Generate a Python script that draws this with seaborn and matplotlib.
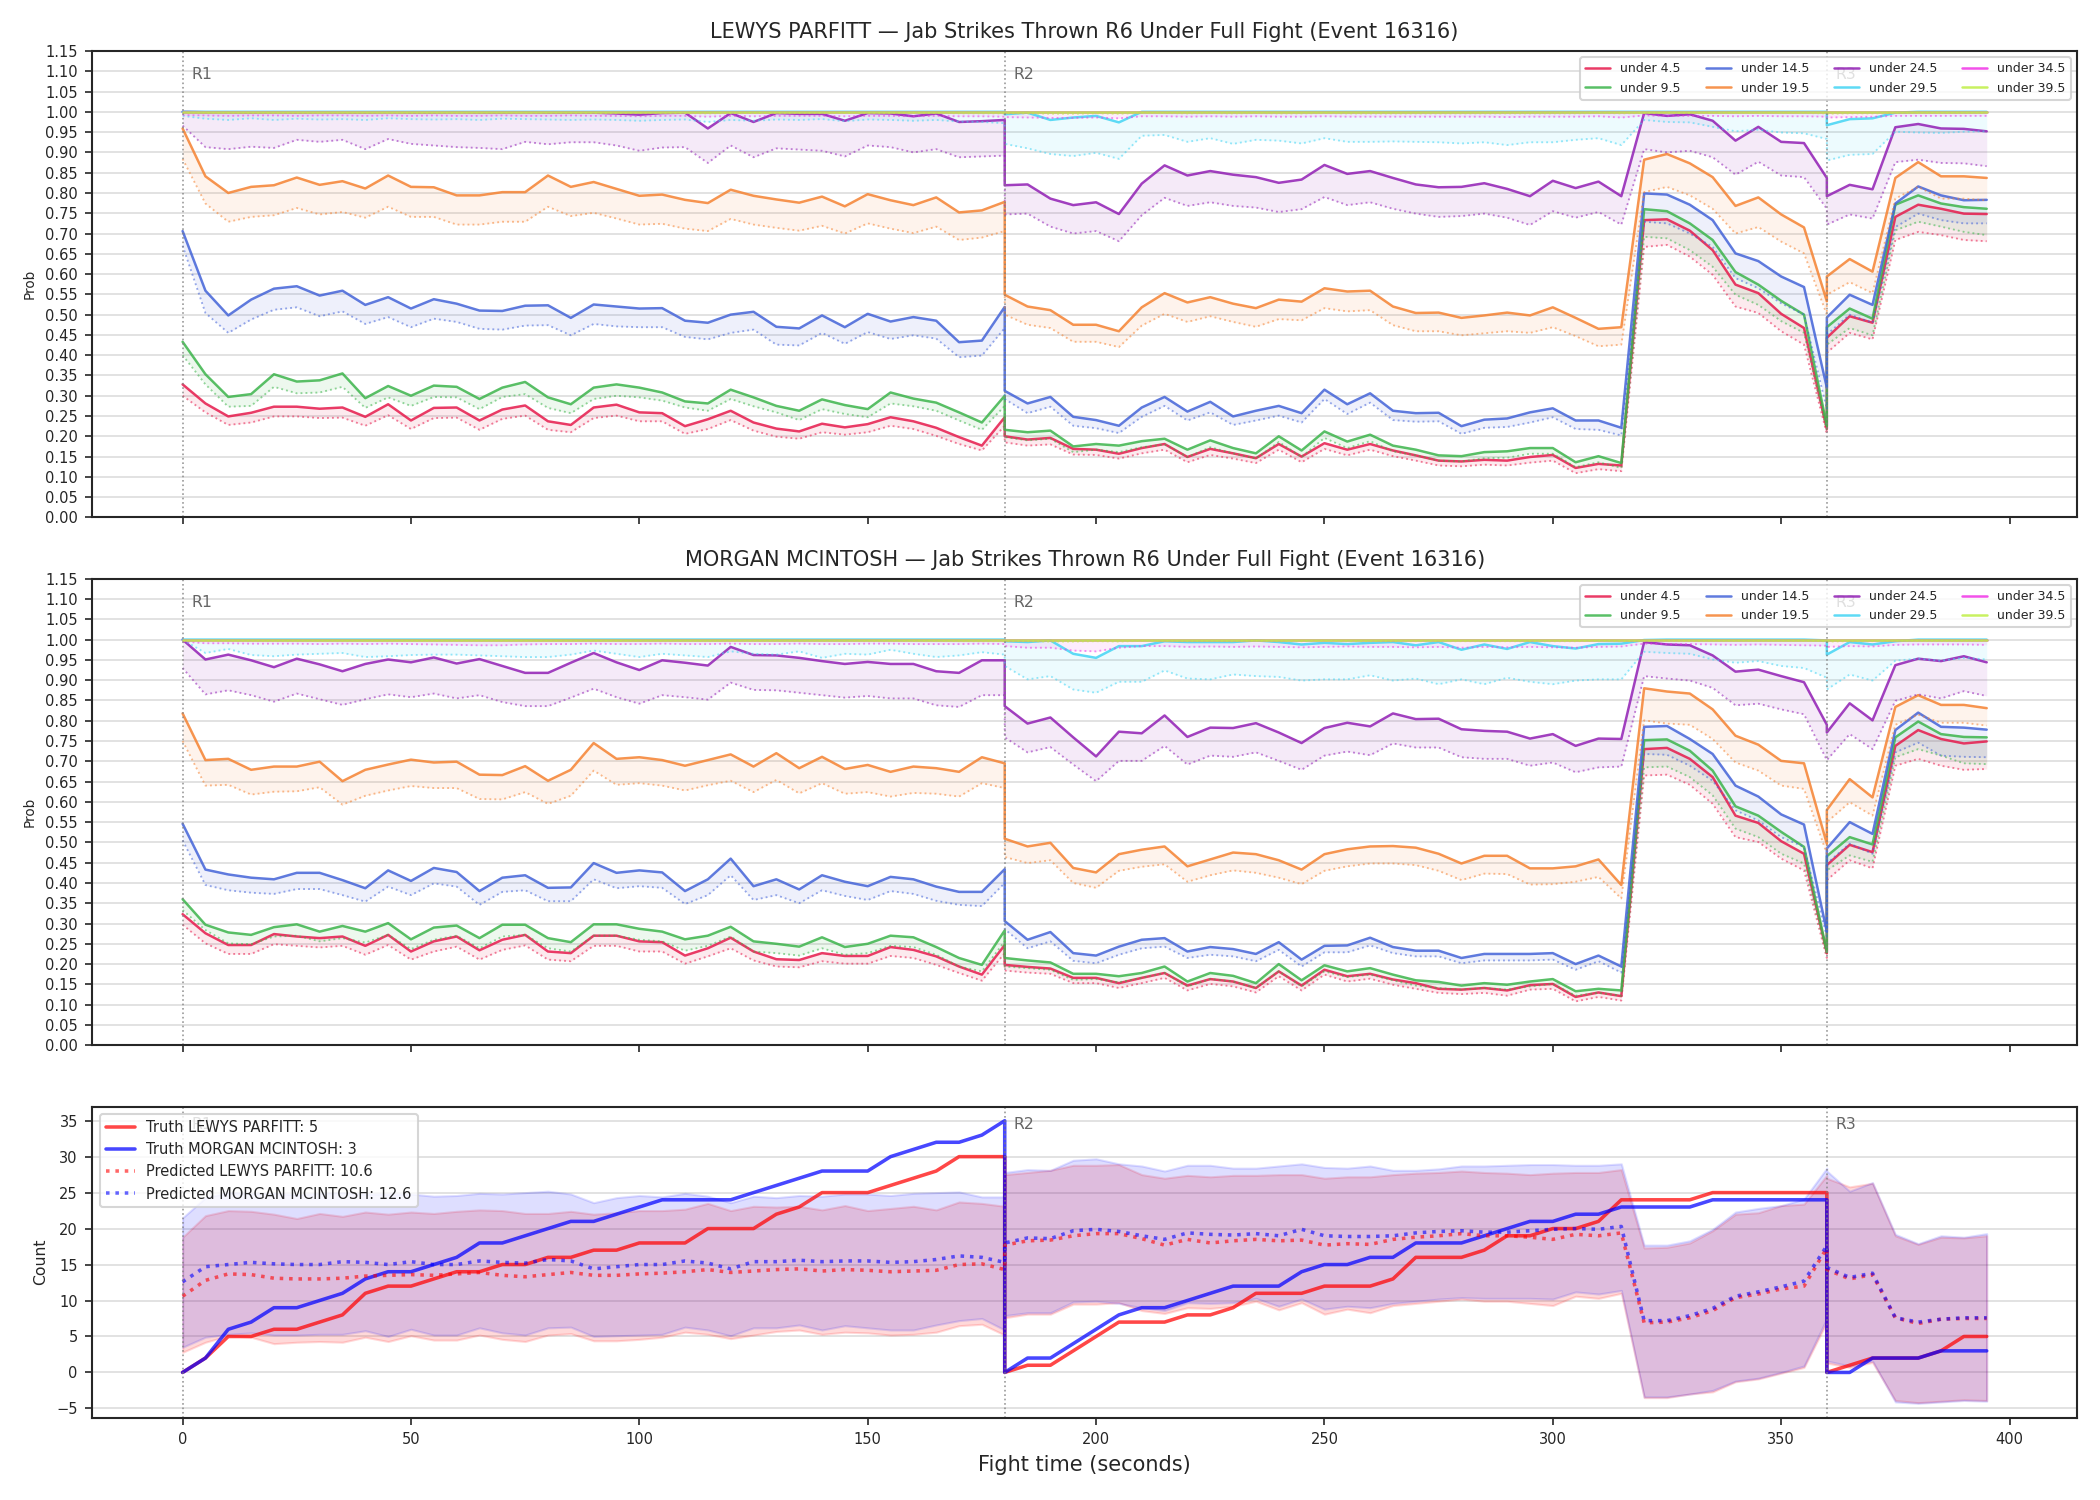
import numpy as np
import matplotlib
matplotlib.use("Agg")
import matplotlib.pyplot as plt
import matplotlib.transforms as mtransforms
import seaborn as sns

# fight time of each sample; every round starts and ends on its own sample
t = list(range(0, 181, 5)) + list(range(180, 361, 5)) + list(range(360, 396, 5))
round_starts = [0, 180, 360]

thresholds = ["under 4.5", "under 9.5", "under 14.5", "under 19.5",
              "under 24.5", "under 29.5", "under 34.5", "under 39.5"]
colors = ["#e6194b", "#3cb44b", "#4363d8", "#f58231",
          "#911eb4", "#42d4f4", "#f032e6", "#bfef45"]

# ---------------- LEWYS PARFITT: probability (solid) and lower line (dotted)
lp_mid_4 = [
    0.328, 0.281, 0.249, 0.258, 0.273, 0.273, 0.268, 0.271, 0.248, 0.279, 0.239, 0.270, 0.271,
    0.239, 0.266, 0.276, 0.237, 0.228, 0.271, 0.278, 0.259, 0.257, 0.225, 0.242, 0.263, 0.234,
    0.219, 0.212, 0.231, 0.222, 0.230, 0.247, 0.237, 0.221, 0.198, 0.177, 0.247,
    0.200, 0.192, 0.196, 0.169, 0.167, 0.157, 0.171, 0.181, 0.149, 0.169, 0.158, 0.146, 0.181,
    0.150, 0.183, 0.167, 0.181, 0.165, 0.153, 0.140, 0.138, 0.142, 0.140, 0.149, 0.154, 0.122,
    0.132, 0.128, 0.733, 0.735, 0.707, 0.659, 0.574, 0.553, 0.502, 0.467, 0.218,
    0.443, 0.496, 0.480, 0.741, 0.771, 0.761, 0.749, 0.748]
lp_low_4 = [
    0.300, 0.259, 0.228, 0.234, 0.249, 0.249, 0.245, 0.246, 0.226, 0.252, 0.218, 0.245, 0.246,
    0.216, 0.243, 0.251, 0.216, 0.210, 0.245, 0.251, 0.237, 0.237, 0.206, 0.218, 0.240, 0.214,
    0.199, 0.194, 0.210, 0.204, 0.210, 0.226, 0.218, 0.201, 0.181, 0.165, 0.226,
    0.185, 0.177, 0.180, 0.155, 0.154, 0.145, 0.158, 0.167, 0.136, 0.154, 0.145, 0.134, 0.167,
    0.136, 0.169, 0.153, 0.167, 0.151, 0.140, 0.128, 0.126, 0.130, 0.128, 0.135, 0.140, 0.109,
    0.119, 0.114, 0.667, 0.672, 0.643, 0.598, 0.520, 0.504, 0.459, 0.426, 0.206,
    0.406, 0.455, 0.439, 0.684, 0.704, 0.696, 0.684, 0.681]
lp_mid_9 = [
    0.433, 0.353, 0.297, 0.304, 0.353, 0.335, 0.338, 0.355, 0.294, 0.324, 0.300, 0.325, 0.322,
    0.292, 0.320, 0.334, 0.296, 0.279, 0.320, 0.328, 0.320, 0.308, 0.286, 0.281, 0.315, 0.296,
    0.275, 0.263, 0.291, 0.277, 0.267, 0.308, 0.293, 0.283, 0.259, 0.234, 0.300,
    0.216, 0.210, 0.214, 0.175, 0.181, 0.177, 0.188, 0.194, 0.167, 0.190, 0.171, 0.158, 0.200,
    0.165, 0.212, 0.187, 0.204, 0.177, 0.167, 0.153, 0.151, 0.161, 0.163, 0.171, 0.171, 0.136,
    0.151, 0.134, 0.760, 0.755, 0.725, 0.684, 0.605, 0.574, 0.534, 0.500, 0.226,
    0.469, 0.515, 0.490, 0.771, 0.794, 0.774, 0.765, 0.761]
lp_low_9 = [
    0.400, 0.328, 0.273, 0.275, 0.322, 0.306, 0.308, 0.322, 0.270, 0.296, 0.275, 0.297, 0.296,
    0.267, 0.297, 0.304, 0.270, 0.257, 0.292, 0.300, 0.296, 0.288, 0.271, 0.263, 0.292, 0.274,
    0.259, 0.240, 0.267, 0.255, 0.247, 0.281, 0.274, 0.263, 0.239, 0.216, 0.275,
    0.198, 0.190, 0.194, 0.161, 0.167, 0.161, 0.173, 0.180, 0.149, 0.173, 0.158, 0.145, 0.186,
    0.149, 0.196, 0.171, 0.188, 0.163, 0.153, 0.140, 0.138, 0.146, 0.147, 0.157, 0.157, 0.124,
    0.136, 0.122, 0.692, 0.688, 0.659, 0.618, 0.549, 0.524, 0.484, 0.455, 0.214,
    0.426, 0.467, 0.449, 0.708, 0.729, 0.717, 0.704, 0.696]
lp_mid_14 = [
    0.706, 0.559, 0.498, 0.537, 0.564, 0.570, 0.547, 0.559, 0.524, 0.543, 0.515, 0.538, 0.527,
    0.510, 0.509, 0.522, 0.523, 0.492, 0.525, 0.520, 0.515, 0.516, 0.485, 0.480, 0.500, 0.507,
    0.470, 0.466, 0.498, 0.469, 0.502, 0.483, 0.494, 0.485, 0.432, 0.436, 0.519,
    0.312, 0.281, 0.297, 0.248, 0.240, 0.226, 0.271, 0.297, 0.261, 0.285, 0.249, 0.263, 0.275,
    0.257, 0.315, 0.279, 0.306, 0.263, 0.257, 0.258, 0.225, 0.241, 0.244, 0.259, 0.269, 0.239,
    0.239, 0.221, 0.799, 0.796, 0.771, 0.733, 0.651, 0.632, 0.594, 0.568, 0.320,
    0.493, 0.549, 0.524, 0.774, 0.816, 0.794, 0.782, 0.783]
lp_low_14 = [
    0.670, 0.504, 0.455, 0.488, 0.512, 0.518, 0.496, 0.508, 0.477, 0.494, 0.469, 0.490, 0.482,
    0.465, 0.463, 0.473, 0.474, 0.449, 0.477, 0.471, 0.469, 0.469, 0.445, 0.439, 0.455, 0.463,
    0.426, 0.424, 0.455, 0.428, 0.457, 0.440, 0.449, 0.441, 0.395, 0.399, 0.467,
    0.292, 0.257, 0.273, 0.226, 0.220, 0.208, 0.248, 0.275, 0.239, 0.259, 0.228, 0.239, 0.251,
    0.234, 0.292, 0.255, 0.283, 0.240, 0.236, 0.237, 0.206, 0.221, 0.223, 0.234, 0.247, 0.218,
    0.216, 0.202, 0.729, 0.725, 0.700, 0.667, 0.590, 0.565, 0.528, 0.500, 0.267,
    0.451, 0.500, 0.480, 0.716, 0.749, 0.733, 0.725, 0.725]
lp_mid_19 = [
    0.959, 0.841, 0.800, 0.815, 0.819, 0.838, 0.820, 0.829, 0.811, 0.843, 0.815, 0.814, 0.794,
    0.794, 0.802, 0.802, 0.843, 0.815, 0.827, 0.810, 0.793, 0.796, 0.783, 0.775, 0.808, 0.793,
    0.784, 0.776, 0.791, 0.767, 0.797, 0.782, 0.770, 0.789, 0.752, 0.757, 0.778,
    0.549, 0.520, 0.511, 0.475, 0.475, 0.459, 0.518, 0.553, 0.530, 0.543, 0.527, 0.516, 0.537,
    0.532, 0.565, 0.557, 0.559, 0.520, 0.504, 0.505, 0.492, 0.498, 0.505, 0.498, 0.518, 0.492,
    0.465, 0.469, 0.882, 0.896, 0.873, 0.839, 0.768, 0.789, 0.747, 0.715, 0.533,
    0.594, 0.637, 0.606, 0.837, 0.876, 0.841, 0.841, 0.837]
lp_low_19 = [
    0.884, 0.774, 0.729, 0.741, 0.745, 0.763, 0.747, 0.753, 0.739, 0.766, 0.741, 0.741, 0.722,
    0.722, 0.729, 0.729, 0.766, 0.743, 0.751, 0.737, 0.722, 0.724, 0.712, 0.706, 0.736, 0.722,
    0.714, 0.707, 0.719, 0.700, 0.725, 0.712, 0.701, 0.717, 0.684, 0.690, 0.706,
    0.500, 0.475, 0.467, 0.433, 0.433, 0.420, 0.473, 0.502, 0.482, 0.496, 0.482, 0.470, 0.489,
    0.486, 0.516, 0.508, 0.511, 0.474, 0.459, 0.459, 0.449, 0.454, 0.459, 0.455, 0.469, 0.447,
    0.422, 0.426, 0.802, 0.815, 0.794, 0.761, 0.700, 0.716, 0.680, 0.651, 0.500,
    0.549, 0.580, 0.553, 0.786, 0.815, 0.786, 0.786, 0.782]
lp_mid_24 = [
    1.000, 0.999, 0.999, 0.998, 0.999, 0.998, 0.999, 0.998, 0.998, 0.999, 0.998, 0.998, 0.999,
    0.998, 0.998, 0.999, 0.998, 0.998, 0.998, 0.996, 0.993, 0.997, 0.998, 0.959, 0.997, 0.975,
    0.997, 0.995, 0.995, 0.978, 0.997, 0.996, 0.989, 0.996, 0.975, 0.977, 0.980,
    0.819, 0.821, 0.786, 0.770, 0.777, 0.748, 0.823, 0.868, 0.843, 0.854, 0.845, 0.839, 0.825,
    0.833, 0.869, 0.847, 0.854, 0.837, 0.821, 0.814, 0.815, 0.824, 0.810, 0.792, 0.830, 0.812,
    0.828, 0.792, 0.997, 0.990, 0.994, 0.978, 0.929, 0.963, 0.926, 0.923, 0.837,
    0.792, 0.820, 0.809, 0.962, 0.970, 0.959, 0.958, 0.952]
lp_low_24 = [
    0.966, 0.913, 0.908, 0.914, 0.911, 0.931, 0.926, 0.931, 0.908, 0.933, 0.921, 0.917, 0.913,
    0.911, 0.908, 0.926, 0.920, 0.925, 0.925, 0.917, 0.904, 0.912, 0.913, 0.874, 0.917, 0.888,
    0.910, 0.907, 0.904, 0.890, 0.917, 0.913, 0.900, 0.908, 0.888, 0.890, 0.892,
    0.747, 0.749, 0.717, 0.700, 0.706, 0.681, 0.745, 0.788, 0.768, 0.777, 0.768, 0.764, 0.753,
    0.760, 0.790, 0.770, 0.777, 0.761, 0.749, 0.741, 0.743, 0.749, 0.739, 0.721, 0.755, 0.739,
    0.753, 0.722, 0.908, 0.900, 0.904, 0.888, 0.845, 0.877, 0.843, 0.839, 0.761,
    0.722, 0.747, 0.737, 0.876, 0.882, 0.874, 0.873, 0.866]
lp_mid_29 = [
    1.000, 1.000, 1.000, 1.000, 1.000, 1.000, 1.000, 1.000, 1.000, 1.000, 1.000, 1.000, 1.000,
    1.000, 1.000, 1.000, 1.000, 1.000, 1.000, 1.000, 1.000, 1.000, 1.000, 1.000, 1.000, 1.000,
    1.000, 1.000, 1.000, 1.000, 1.000, 1.000, 1.000, 1.000, 1.000, 1.000, 1.000,
    0.994, 0.998, 0.980, 0.986, 0.990, 0.974, 1.000, 1.000, 1.000, 1.000, 1.000, 1.000, 1.000,
    1.000, 1.000, 1.000, 1.000, 1.000, 1.000, 1.000, 1.000, 1.000, 1.000, 1.000, 1.000, 1.000,
    1.000, 1.000, 1.000, 1.000, 1.000, 1.000, 1.000, 1.000, 1.000, 1.000, 1.000,
    0.967, 0.982, 0.984, 0.998, 1.000, 1.000, 1.000, 1.000]
lp_low_29 = [
    0.990, 0.983, 0.980, 0.984, 0.980, 0.983, 0.981, 0.982, 0.980, 0.984, 0.982, 0.981, 0.982,
    0.980, 0.983, 0.982, 0.981, 0.980, 0.981, 0.980, 0.978, 0.980, 0.981, 0.975, 0.980, 0.978,
    0.981, 0.980, 0.982, 0.977, 0.981, 0.980, 0.978, 0.980, 0.976, 0.975, 0.972,
    0.921, 0.910, 0.896, 0.891, 0.899, 0.884, 0.941, 0.943, 0.926, 0.935, 0.921, 0.931, 0.929,
    0.922, 0.935, 0.926, 0.926, 0.927, 0.926, 0.925, 0.922, 0.925, 0.918, 0.925, 0.925, 0.931,
    0.935, 0.918, 0.980, 0.975, 0.974, 0.963, 0.952, 0.956, 0.949, 0.947, 0.933,
    0.880, 0.894, 0.896, 0.951, 0.949, 0.948, 0.951, 0.952]
lp_mid_34 = [
    1.000, 1.000, 1.000, 1.000, 1.000, 1.000, 1.000, 1.000, 1.000, 1.000, 1.000, 1.000, 1.000,
    1.000, 1.000, 1.000, 1.000, 1.000, 1.000, 1.000, 1.000, 1.000, 1.000, 1.000, 1.000, 1.000,
    1.000, 1.000, 1.000, 1.000, 1.000, 1.000, 1.000, 1.000, 1.000, 1.000, 1.000,
    1.000, 1.000, 1.000, 1.000, 1.000, 1.000, 1.000, 1.000, 1.000, 1.000, 1.000, 1.000, 1.000,
    1.000, 1.000, 1.000, 1.000, 1.000, 1.000, 1.000, 1.000, 1.000, 1.000, 1.000, 1.000, 1.000,
    1.000, 1.000, 1.000, 1.000, 1.000, 1.000, 1.000, 1.000, 1.000, 1.000, 1.000,
    1.000, 1.000, 1.000, 1.000, 1.000, 1.000, 1.000, 1.000]
lp_low_34 = [
    0.992, 0.991, 0.990, 0.991, 0.991, 0.990, 0.991, 0.991, 0.990, 0.991, 0.990, 0.991, 0.990,
    0.990, 0.991, 0.990, 0.990, 0.991, 0.990, 0.990, 0.989, 0.990, 0.990, 0.988, 0.990, 0.989,
    0.990, 0.990, 0.990, 0.989, 0.990, 0.990, 0.989, 0.990, 0.989, 0.989, 0.988,
    0.987, 0.986, 0.985, 0.985, 0.986, 0.984, 0.989, 0.989, 0.988, 0.989, 0.988, 0.989, 0.988,
    0.988, 0.989, 0.988, 0.988, 0.988, 0.988, 0.988, 0.988, 0.988, 0.987, 0.988, 0.988, 0.988,
    0.989, 0.986, 0.991, 0.990, 0.990, 0.990, 0.989, 0.990, 0.989, 0.989, 0.988,
    0.986, 0.987, 0.988, 0.990, 0.990, 0.990, 0.990, 0.990]
lp_mid_39 = lp_mid_34
lp_low_39 = [
    0.997, 0.997, 0.997, 0.997, 0.997, 0.997, 0.997, 0.997, 0.997, 0.997, 0.997, 0.997, 0.997,
    0.997, 0.997, 0.997, 0.997, 0.997, 0.997, 0.997, 0.997, 0.997, 0.997, 0.996, 0.997, 0.997,
    0.997, 0.997, 0.997, 0.997, 0.997, 0.997, 0.997, 0.997, 0.996, 0.996, 0.996,
    0.996, 0.996, 0.995, 0.995, 0.996, 0.995, 0.997, 0.997, 0.996, 0.997, 0.996, 0.997, 0.996,
    0.996, 0.997, 0.996, 0.996, 0.996, 0.996, 0.996, 0.996, 0.996, 0.996, 0.996, 0.996, 0.996,
    0.997, 0.996, 0.997, 0.997, 0.997, 0.997, 0.997, 0.997, 0.997, 0.997, 0.996,
    0.995, 0.996, 0.996, 0.997, 0.997, 0.997, 0.997, 0.997]

# ---------------- MORGAN MCINTOSH
mm_mid_4 = [
    0.323, 0.276, 0.247, 0.247, 0.274, 0.268, 0.264, 0.268, 0.245, 0.272, 0.231, 0.256, 0.268,
    0.234, 0.260, 0.272, 0.231, 0.227, 0.270, 0.270, 0.256, 0.254, 0.221, 0.239, 0.265, 0.231,
    0.212, 0.210, 0.227, 0.220, 0.220, 0.242, 0.235, 0.219, 0.194, 0.174, 0.247,
    0.198, 0.193, 0.189, 0.166, 0.166, 0.153, 0.166, 0.178, 0.147, 0.163, 0.157, 0.141, 0.182,
    0.147, 0.186, 0.170, 0.176, 0.162, 0.153, 0.139, 0.137, 0.141, 0.135, 0.148, 0.151, 0.119,
    0.130, 0.121, 0.730, 0.733, 0.706, 0.661, 0.566, 0.548, 0.503, 0.472, 0.227,
    0.444, 0.494, 0.476, 0.738, 0.777, 0.755, 0.744, 0.749]
mm_low_4 = [
    0.297, 0.251, 0.225, 0.225, 0.249, 0.245, 0.241, 0.245, 0.223, 0.247, 0.211, 0.231, 0.243,
    0.211, 0.235, 0.246, 0.211, 0.207, 0.245, 0.245, 0.231, 0.231, 0.201, 0.219, 0.239, 0.209,
    0.194, 0.192, 0.207, 0.201, 0.201, 0.220, 0.215, 0.198, 0.178, 0.159, 0.227,
    0.184, 0.179, 0.176, 0.153, 0.153, 0.141, 0.153, 0.166, 0.135, 0.151, 0.145, 0.130, 0.170,
    0.135, 0.174, 0.157, 0.164, 0.149, 0.139, 0.129, 0.126, 0.129, 0.122, 0.137, 0.139, 0.108,
    0.119, 0.110, 0.665, 0.667, 0.642, 0.595, 0.513, 0.501, 0.460, 0.431, 0.215,
    0.407, 0.456, 0.436, 0.689, 0.706, 0.689, 0.679, 0.681]
mm_mid_9 = [
    0.360, 0.297, 0.278, 0.272, 0.291, 0.298, 0.280, 0.294, 0.280, 0.301, 0.261, 0.290, 0.295,
    0.264, 0.297, 0.297, 0.264, 0.254, 0.298, 0.298, 0.287, 0.280, 0.261, 0.270, 0.292, 0.256,
    0.250, 0.243, 0.266, 0.242, 0.250, 0.270, 0.266, 0.242, 0.215, 0.198, 0.283,
    0.215, 0.209, 0.204, 0.176, 0.176, 0.170, 0.178, 0.194, 0.157, 0.178, 0.171, 0.153, 0.200,
    0.160, 0.197, 0.182, 0.190, 0.174, 0.160, 0.156, 0.147, 0.153, 0.149, 0.157, 0.163, 0.133,
    0.139, 0.135, 0.752, 0.754, 0.726, 0.677, 0.589, 0.566, 0.526, 0.489, 0.231,
    0.466, 0.513, 0.495, 0.759, 0.798, 0.767, 0.760, 0.759]
mm_low_9 = [
    0.333, 0.284, 0.251, 0.249, 0.268, 0.270, 0.256, 0.264, 0.253, 0.272, 0.237, 0.260, 0.270,
    0.239, 0.268, 0.272, 0.239, 0.231, 0.270, 0.270, 0.260, 0.256, 0.233, 0.245, 0.268, 0.231,
    0.227, 0.221, 0.239, 0.223, 0.227, 0.245, 0.242, 0.223, 0.194, 0.182, 0.256,
    0.194, 0.190, 0.186, 0.161, 0.163, 0.155, 0.166, 0.178, 0.145, 0.163, 0.157, 0.141, 0.182,
    0.145, 0.182, 0.168, 0.174, 0.160, 0.147, 0.141, 0.137, 0.141, 0.137, 0.145, 0.151, 0.122,
    0.129, 0.122, 0.685, 0.687, 0.661, 0.616, 0.534, 0.513, 0.472, 0.448, 0.223,
    0.431, 0.468, 0.452, 0.710, 0.730, 0.714, 0.695, 0.693]
mm_mid_14 = [
    0.546, 0.433, 0.421, 0.413, 0.409, 0.425, 0.425, 0.407, 0.387, 0.431, 0.405, 0.437, 0.427,
    0.380, 0.413, 0.419, 0.388, 0.389, 0.449, 0.425, 0.431, 0.426, 0.380, 0.409, 0.460, 0.392,
    0.409, 0.384, 0.419, 0.403, 0.392, 0.415, 0.409, 0.391, 0.378, 0.378, 0.434,
    0.306, 0.260, 0.279, 0.227, 0.221, 0.243, 0.260, 0.264, 0.231, 0.242, 0.237, 0.225, 0.254,
    0.211, 0.245, 0.246, 0.265, 0.242, 0.233, 0.233, 0.215, 0.225, 0.225, 0.225, 0.227, 0.200,
    0.221, 0.194, 0.785, 0.787, 0.755, 0.718, 0.640, 0.613, 0.569, 0.544, 0.280,
    0.485, 0.550, 0.521, 0.777, 0.820, 0.785, 0.783, 0.778]
mm_low_14 = [
    0.505, 0.395, 0.382, 0.376, 0.373, 0.385, 0.385, 0.370, 0.354, 0.391, 0.370, 0.399, 0.391,
    0.346, 0.378, 0.382, 0.355, 0.355, 0.409, 0.387, 0.392, 0.388, 0.348, 0.370, 0.419, 0.358,
    0.370, 0.350, 0.382, 0.368, 0.358, 0.380, 0.373, 0.356, 0.346, 0.343, 0.400,
    0.286, 0.239, 0.256, 0.208, 0.202, 0.223, 0.239, 0.243, 0.215, 0.223, 0.219, 0.207, 0.235,
    0.194, 0.229, 0.229, 0.246, 0.227, 0.219, 0.219, 0.202, 0.209, 0.209, 0.209, 0.211, 0.186,
    0.207, 0.179, 0.718, 0.716, 0.689, 0.652, 0.579, 0.554, 0.513, 0.489, 0.268,
    0.448, 0.497, 0.472, 0.722, 0.746, 0.714, 0.711, 0.710]
mm_mid_19 = [
    0.818, 0.703, 0.706, 0.679, 0.687, 0.687, 0.699, 0.651, 0.679, 0.692, 0.704, 0.697, 0.699,
    0.667, 0.666, 0.688, 0.652, 0.679, 0.745, 0.706, 0.710, 0.703, 0.689, 0.703, 0.717, 0.687,
    0.720, 0.683, 0.711, 0.681, 0.691, 0.674, 0.687, 0.683, 0.674, 0.710, 0.695,
    0.509, 0.490, 0.499, 0.437, 0.426, 0.471, 0.482, 0.490, 0.441, 0.458, 0.475, 0.471, 0.456,
    0.433, 0.471, 0.483, 0.490, 0.491, 0.487, 0.472, 0.448, 0.467, 0.467, 0.436, 0.436, 0.441,
    0.458, 0.395, 0.880, 0.872, 0.867, 0.828, 0.763, 0.741, 0.701, 0.695, 0.497,
    0.580, 0.656, 0.611, 0.834, 0.863, 0.839, 0.839, 0.831]
mm_low_19 = [
    0.750, 0.640, 0.642, 0.618, 0.625, 0.626, 0.636, 0.593, 0.615, 0.628, 0.639, 0.634, 0.634,
    0.607, 0.606, 0.624, 0.595, 0.615, 0.677, 0.642, 0.646, 0.640, 0.628, 0.641, 0.652, 0.624,
    0.654, 0.621, 0.646, 0.620, 0.624, 0.613, 0.622, 0.620, 0.613, 0.646, 0.634,
    0.464, 0.449, 0.456, 0.400, 0.388, 0.430, 0.440, 0.446, 0.403, 0.419, 0.431, 0.425, 0.413,
    0.397, 0.430, 0.441, 0.448, 0.448, 0.444, 0.430, 0.407, 0.423, 0.422, 0.396, 0.397, 0.403,
    0.415, 0.362, 0.801, 0.793, 0.790, 0.755, 0.697, 0.677, 0.640, 0.632, 0.472,
    0.550, 0.599, 0.566, 0.790, 0.815, 0.795, 0.795, 0.788]
mm_mid_24 = [
    1.000, 0.951, 0.963, 0.949, 0.932, 0.953, 0.939, 0.922, 0.940, 0.951, 0.944, 0.956, 0.941,
    0.952, 0.935, 0.918, 0.918, 0.943, 0.967, 0.944, 0.925, 0.949, 0.943, 0.936, 0.982, 0.962,
    0.961, 0.955, 0.947, 0.940, 0.945, 0.940, 0.940, 0.922, 0.918, 0.949, 0.949,
    0.836, 0.793, 0.808, 0.759, 0.712, 0.773, 0.769, 0.813, 0.760, 0.783, 0.782, 0.794, 0.771,
    0.745, 0.782, 0.795, 0.786, 0.818, 0.804, 0.805, 0.779, 0.775, 0.773, 0.756, 0.767, 0.738,
    0.756, 0.755, 0.994, 0.988, 0.986, 0.961, 0.921, 0.926, 0.910, 0.895, 0.790,
    0.771, 0.843, 0.801, 0.937, 0.953, 0.947, 0.959, 0.944]
mm_low_24 = [
    0.930, 0.865, 0.875, 0.863, 0.847, 0.867, 0.853, 0.839, 0.853, 0.865, 0.858, 0.867, 0.855,
    0.863, 0.846, 0.836, 0.836, 0.857, 0.879, 0.858, 0.842, 0.863, 0.858, 0.852, 0.894, 0.876,
    0.875, 0.869, 0.863, 0.857, 0.861, 0.855, 0.855, 0.838, 0.834, 0.863, 0.863,
    0.759, 0.722, 0.735, 0.692, 0.651, 0.701, 0.701, 0.738, 0.692, 0.714, 0.711, 0.722, 0.701,
    0.679, 0.714, 0.724, 0.715, 0.744, 0.734, 0.734, 0.710, 0.706, 0.706, 0.689, 0.697, 0.673,
    0.685, 0.687, 0.910, 0.904, 0.899, 0.881, 0.838, 0.842, 0.828, 0.816, 0.703,
    0.703, 0.767, 0.730, 0.849, 0.865, 0.855, 0.873, 0.861]
mm_mid_29 = [
    1.000, 1.000, 1.000, 1.000, 1.000, 1.000, 1.000, 1.000, 1.000, 1.000, 1.000, 1.000, 1.000,
    1.000, 1.000, 1.000, 1.000, 1.000, 1.000, 1.000, 1.000, 1.000, 1.000, 1.000, 1.000, 1.000,
    1.000, 1.000, 1.000, 1.000, 1.000, 1.000, 1.000, 1.000, 1.000, 1.000, 1.000,
    0.996, 0.994, 0.998, 0.965, 0.955, 0.984, 0.984, 0.996, 0.994, 0.994, 0.994, 0.998, 0.994,
    0.988, 0.992, 0.989, 0.992, 0.994, 0.986, 0.994, 0.975, 0.988, 0.977, 0.994, 0.984, 0.978,
    0.989, 0.990, 0.999, 1.000, 1.000, 1.000, 1.000, 1.000, 1.000, 1.000, 0.998,
    0.963, 0.994, 0.988, 0.996, 1.000, 1.000, 1.000, 1.000]
mm_low_29 = [
    1.000, 0.967, 0.977, 0.962, 0.959, 0.963, 0.965, 0.967, 0.957, 0.959, 0.962, 0.963, 0.963,
    0.961, 0.959, 0.957, 0.957, 0.963, 0.973, 0.965, 0.957, 0.965, 0.961, 0.957, 0.971, 0.965,
    0.963, 0.971, 0.955, 0.965, 0.963, 0.975, 0.965, 0.957, 0.961, 0.969, 0.963,
    0.935, 0.902, 0.910, 0.877, 0.869, 0.896, 0.896, 0.924, 0.904, 0.902, 0.914, 0.910, 0.908,
    0.899, 0.902, 0.902, 0.912, 0.899, 0.904, 0.890, 0.902, 0.890, 0.906, 0.896, 0.890, 0.899,
    0.902, 0.902, 0.970, 0.967, 0.965, 0.951, 0.943, 0.947, 0.935, 0.930, 0.906,
    0.877, 0.914, 0.899, 0.948, 0.953, 0.948, 0.955, 0.951]
mm_mid_34 = lp_mid_34
mm_low_34 = [
    0.995, 0.991, 0.991, 0.990, 0.990, 0.990, 0.989, 0.990, 0.989, 0.990, 0.989, 0.988, 0.987,
    0.986, 0.986, 0.988, 0.989, 0.989, 0.990, 0.989, 0.989, 0.990, 0.989, 0.989, 0.990, 0.989,
    0.989, 0.990, 0.989, 0.989, 0.990, 0.990, 0.989, 0.989, 0.989, 0.990, 0.989,
    0.984, 0.980, 0.980, 0.973, 0.971, 0.980, 0.984, 0.984, 0.982, 0.983, 0.982, 0.983, 0.982,
    0.981, 0.982, 0.983, 0.982, 0.982, 0.981, 0.982, 0.980, 0.982, 0.981, 0.982, 0.981, 0.980,
    0.982, 0.983, 0.990, 0.989, 0.989, 0.988, 0.987, 0.988, 0.987, 0.986, 0.985,
    0.982, 0.984, 0.983, 0.987, 0.988, 0.988, 0.988, 0.987]
mm_mid_39 = lp_mid_34
mm_low_39 = lp_low_39

# ---------------- counts
lp_truth = [0, 2, 5, 5, 6, 6, 7, 8, 11, 12, 12, 13, 14, 14, 15, 15, 16, 16, 17, 17, 18, 18, 18,
            20, 20, 20, 22, 23, 25, 25, 25, 26, 27, 28, 30, 30, 30,
            0, 1, 1, 3, 5, 7, 7, 7, 8, 8, 9, 11, 11, 11, 12, 12, 12, 13, 16, 16, 16, 17, 19, 19,
            20, 20, 21, 24, 24, 24, 24, 25, 25, 25, 25, 25, 25,
            0, 1, 2, 2, 2, 3, 5, 5]
mm_truth = [0, 2, 6, 7, 9, 9, 10, 11, 13, 14, 14, 15, 16, 18, 18, 19, 20, 21, 21, 22, 23, 24, 24,
            24, 24, 25, 26, 27, 28, 28, 28, 30, 31, 32, 32, 33, 35,
            0, 2, 2, 4, 6, 8, 9, 9, 10, 11, 12, 12, 12, 14, 15, 15, 16, 16, 18, 18, 18, 19, 20, 21,
            21, 22, 22, 23, 23, 23, 23, 24, 24, 24, 24, 24, 24,
            0, 0, 2, 2, 2, 3, 3, 3]
lp_pred = [10.6, 12.8, 13.7, 13.6, 13.1, 13.0, 13.0, 13.1, 13.4, 13.5, 13.6, 13.5, 13.7, 13.9,
           13.5, 13.3, 13.6, 13.9, 13.5, 13.5, 13.7, 13.8, 14.0, 14.3, 13.9, 14.1, 14.3, 14.4,
           14.1, 14.3, 14.2, 14.0, 14.1, 14.2, 15.0, 15.1, 14.3,
           17.7, 18.3, 18.4, 19.0, 19.3, 19.3, 18.6, 17.7, 18.5, 18.0, 18.3, 18.5, 18.3, 18.4,
           17.7, 17.9, 17.8, 18.5, 18.8, 19.0, 19.3, 19.0, 19.0, 18.8, 18.5, 19.2, 19.0, 19.4,
           6.9, 7.0, 7.6, 8.6, 10.4, 10.9, 11.6, 12.0, 17.3,
           14.3, 13.0, 13.6, 7.6, 6.8, 7.4, 7.5, 7.5]
mm_pred = [12.6, 14.7, 15.0, 15.3, 15.1, 15.0, 15.0, 15.4, 15.3, 15.0, 15.4, 15.0, 15.0, 15.5,
           15.3, 15.2, 15.7, 15.5, 14.4, 14.7, 15.0, 15.0, 15.5, 15.2, 14.4, 15.4, 15.4, 15.6,
           15.4, 15.5, 15.5, 15.3, 15.4, 15.7, 16.2, 16.0, 15.3,
           18.0, 18.7, 18.6, 19.7, 19.9, 19.6, 19.0, 18.5, 19.4, 19.2, 19.1, 19.3, 19.0, 19.9,
           19.0, 18.9, 18.9, 19.0, 19.4, 19.6, 19.7, 19.5, 19.5, 19.7, 19.9, 20.0, 19.9, 20.3,
           7.2, 7.2, 7.9, 8.9, 10.6, 11.2, 11.9, 12.7, 17.6,
           14.6, 13.2, 13.8, 7.6, 7.0, 7.4, 7.6, 7.6]
lp_hi = [18.8, 21.8, 22.5, 22.4, 22.0, 21.4, 22.1, 21.7, 22.3, 22.0, 22.3, 22.1, 22.4, 22.6,
         22.5, 22.1, 22.1, 22.4, 22.0, 22.2, 22.5, 22.5, 22.7, 23.5, 22.5, 23.1, 23.0, 23.1,
         22.6, 23.2, 22.5, 22.8, 23.1, 22.6, 23.7, 23.5, 23.1,
         27.5, 27.8, 28.1, 28.8, 28.8, 28.9, 27.5, 27.0, 27.4, 27.2, 27.4, 27.4, 27.5, 27.5,
         27.0, 27.2, 27.2, 27.5, 27.7, 27.8, 28.0, 27.8, 27.7, 27.5, 27.7, 27.8, 27.8, 28.2,
         17.3, 17.4, 18.0, 19.7, 22.0, 22.2, 23.2, 23.4, 27.4,
         27.0, 25.8, 26.3, 19.0, 17.8, 18.8, 18.7, 19.0]
lp_lo = [2.8, 4.2, 5.1, 4.9, 4.0, 4.2, 4.3, 4.2, 4.9, 4.3, 5.1, 4.5, 4.5, 5.2, 4.6, 4.3, 5.2,
         5.4, 4.4, 4.4, 4.6, 4.9, 5.6, 5.3, 4.7, 5.2, 5.7, 5.9, 5.3, 5.6, 5.5, 5.2, 5.3, 5.6,
         6.5, 6.7, 5.2,
         7.6, 8.1, 8.1, 9.5, 9.5, 9.7, 8.6, 8.2, 9.0, 8.9, 9.2, 9.9, 8.7, 9.7, 8.1, 8.8, 8.3,
         9.3, 9.6, 9.9, 10.2, 9.9, 9.9, 9.6, 9.3, 10.6, 10.3, 11.0, -3.5, -3.5, -3.0, -2.7,
         -1.3, -0.9, -0.1, 0.7, 7.0,
         1.3, 0.7, 1.4, -3.9, -4.2, -4.0, -3.8, -3.9]
mm_hi = [21.5, 24.3, 25.0, 24.9, 24.9, 24.7, 24.9, 25.0, 24.8, 24.8, 24.8, 24.5, 24.6, 24.9,
         24.8, 25.0, 25.2, 24.8, 23.6, 24.3, 24.6, 24.4, 24.9, 24.5, 23.6, 24.5, 24.3, 24.6,
         24.5, 24.8, 24.8, 24.6, 24.9, 25.0, 25.1, 24.4, 24.4,
         27.8, 28.2, 28.1, 29.5, 29.7, 29.0, 28.7, 28.0, 28.8, 28.8, 28.4, 28.4, 28.7, 29.0,
         28.5, 28.4, 28.7, 28.1, 28.1, 28.3, 28.7, 28.7, 28.8, 28.9, 28.9, 28.8, 28.8, 29.0,
         17.7, 17.7, 18.3, 19.9, 22.3, 22.8, 23.2, 24.1, 28.4,
         28.0, 25.2, 26.4, 19.2, 17.9, 19.0, 18.8, 19.3]
mm_lo = [3.5, 4.9, 5.3, 5.5, 5.2, 5.2, 5.3, 5.3, 5.8, 5.0, 6.0, 5.2, 5.2, 6.2, 5.5, 5.2, 6.2,
         6.3, 5.0, 5.1, 5.2, 5.3, 6.3, 5.9, 5.1, 6.2, 6.2, 6.6, 5.9, 6.5, 6.2, 5.9, 5.9, 6.6,
         7.2, 7.5, 5.9,
         7.9, 8.3, 8.3, 9.8, 9.9, 9.6, 9.0, 8.6, 9.7, 9.6, 9.7, 10.3, 9.2, 10.2, 8.8, 9.2, 9.0,
         9.6, 9.9, 10.2, 10.4, 10.3, 10.3, 10.3, 10.2, 11.2, 10.9, 11.4, -3.4, -3.4, -3.0, -2.5,
         -1.2, -0.8, 0.0, 0.9, 7.5,
         1.6, 0.9, 1.6, -4.1, -4.3, -4.1, -3.9, -4.0]

lp_mids = [lp_mid_4, lp_mid_9, lp_mid_14, lp_mid_19, lp_mid_24, lp_mid_29, lp_mid_34, lp_mid_39]
lp_lows = [lp_low_4, lp_low_9, lp_low_14, lp_low_19, lp_low_24, lp_low_29, lp_low_34, lp_low_39]
mm_mids = [mm_mid_4, mm_mid_9, mm_mid_14, mm_mid_19, mm_mid_24, mm_mid_29, mm_mid_34, mm_mid_39]
mm_lows = [mm_low_4, mm_low_9, mm_low_14, mm_low_19, mm_low_24, mm_low_29, mm_low_34, mm_low_39]

sns.set_style("ticks")
plt.rcParams["font.family"] = ["DejaVu Sans"]

fig, axes = plt.subplots(3, 1, figsize=(14, 10), dpi=150, sharex=True,
                         gridspec_kw={"height_ratios": [3, 3, 2]})
fig.subplots_adjust(left=0.044, right=0.989, top=0.966, bottom=0.055, hspace=0.148)


def round_marks(ax):
    trans = mtransforms.blended_transform_factory(ax.transData, ax.transAxes)
    for i, r in enumerate(round_starts):
        ax.axvline(r, color="gray", ls=":", lw=0.8, alpha=0.8)
        ax.text(r + 2, 0.965, f"R{i + 1}", transform=trans, va="top", ha="left",
                fontsize=7.5, color="#666666")


def prob_panel(ax, name, mids, lows):
    for lab, col, mid, low in zip(thresholds, colors, mids, lows):
        ax.fill_between(t, low, mid, color=col, alpha=0.09, lw=0)
        sns.lineplot(x=t, y=mid, ax=ax, color=col, lw=1.2, alpha=0.85,
                     estimator=None, sort=False, label=lab)
        sns.lineplot(x=t, y=low, ax=ax, color=col, lw=0.9, alpha=0.55, linestyle=":",
                     estimator=None, sort=False)
    ax.set_ylim(0, 1.15)
    ax.set_yticks(np.arange(0, 1.151, 0.05))
    ax.yaxis.set_major_formatter(matplotlib.ticker.FormatStrFormatter("%.2f"))
    ax.set_ylabel("Prob", fontsize=6.5)
    ax.set_title(f"{name} \u2014 Jab Strikes Thrown R6 Under Full Fight (Event 16316)", fontsize=10)
    round_marks(ax)
    ax.legend(loc="upper right", ncol=4, fontsize=6)


prob_panel(axes[0], "LEWYS PARFITT", lp_mids, lp_lows)
prob_panel(axes[1], "MORGAN MCINTOSH", mm_mids, mm_lows)

ax = axes[2]
ax.fill_between(t, lp_lo, lp_hi, color="red", alpha=0.15)
ax.fill_between(t, mm_lo, mm_hi, color="blue", alpha=0.13)
sns.lineplot(x=t, y=lp_truth, ax=ax, color="red", lw=1.7, alpha=0.72, estimator=None, sort=False,
             label=f"Truth LEWYS PARFITT: {lp_truth[-1]}")
sns.lineplot(x=t, y=mm_truth, ax=ax, color="blue", lw=1.7, alpha=0.72, estimator=None, sort=False,
             label=f"Truth MORGAN MCINTOSH: {mm_truth[-1]}")
sns.lineplot(x=t, y=lp_pred, ax=ax, color="red", lw=1.7, alpha=0.6, linestyle=":", estimator=None,
             sort=False, label=f"Predicted LEWYS PARFITT: {lp_pred[0]}")
sns.lineplot(x=t, y=mm_pred, ax=ax, color="blue", lw=1.7, alpha=0.6, linestyle=":", estimator=None,
             sort=False, label=f"Predicted MORGAN MCINTOSH: {mm_pred[0]}")
round_marks(ax)
ax.set_ylabel("Count", fontsize=7.5)
ax.set_xlabel("Fight time (seconds)", fontsize=10)
ax.legend(loc="upper left", fontsize=7)

for a in axes:
    a.grid(axis="y", color="#dddddd", lw=0.8)
    a.set_axisbelow(True)
    a.tick_params(labelsize=7)
    for s in a.spines.values():
        s.set_visible(True)
        s.set_linewidth(1.0)

fig.savefig("out.png", dpi=150)
